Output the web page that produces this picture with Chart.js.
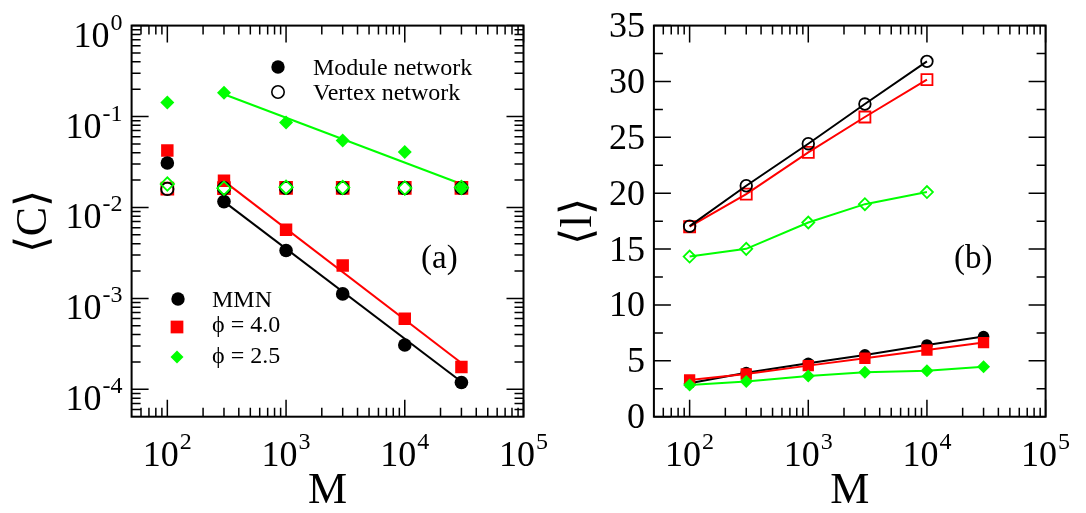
<!DOCTYPE html>
<html lang="en">
<head>
<meta charset="utf-8">
<title>Module network vs vertex network</title>
<script src="https://cdn.jsdelivr.net/npm/chart.js@4/dist/chart.umd.min.js"></script>
<style>
  html, body { margin: 0; padding: 0; background: #fff; }
  #wrap { position: relative; width: 1086px; height: 513px; overflow: hidden; }
  canvas { position: absolute; top: 0; }
  #chartA { left: 0; }
  #chartB { left: 540px; }
</style>
</head>
<body>
<div id="wrap">
  <canvas id="chartA" width="600" height="513"></canvas>
  <canvas id="chartB" width="546" height="513"></canvas>
</div>
<script>
  // network sizes
  var M = [100, 300, 1000, 3000, 10000, 30000];
  var Mvertex = [100, 300, 1000, 3000, 10000];

  // (a) clustering <C>, module network (filled symbols)
  var cModMMN = [0.0308, 0.0116, 0.00336, 0.00112, 0.000307, 0.000119];
  var cModPhi4 = [0.0423, 0.0197, 0.0057, 0.0023, 0.000597, 0.000176];
  var cModPhi25 = [0.1425, 0.183, 0.0859, 0.0545, 0.0407, 0.0164];
  // (a) clustering <C>, vertex network (open symbols)
  var cVerMMN = [0.0160, 0.0163, 0.0164, 0.0164, 0.0163, 0.0164];
  var cVerPhi4 = [0.0161, 0.0163, 0.0164, 0.0164, 0.0164, 0.0164];
  var cVerPhi25 = [0.0181, 0.0163, 0.0167, 0.0166, 0.0164, 0.0166];
  // (a) power-law fits
  var fitM = [300, 30000];
  var cFitMMN = [0.0116, 0.000121];
  var cFitPhi4 = [0.0195, 0.000195];
  var cFitPhi25 = [0.176, 0.0181];

  // (b) path length <l>
  var lVerMMN = [17.05, 20.67, 24.43, 27.98, 31.8];
  var lVerPhi4 = [17.0, 19.92, 23.65, 26.82, 30.16];
  var lVerPhi25 = [14.33, 15.02, 17.38, 19.02, 20.1];
  var lModMMN = [3.0, 3.94, 4.78, 5.53, 6.42, 7.17];
  var lModPhi4 = [3.29, 3.82, 4.57, 5.23, 5.97, 6.63];
  var lModPhi25 = [2.84, 3.14, 3.65, 3.97, 4.12, 4.48];

  // axis ticks
  var xDecades = [2, 3, 4, 5];
  var yDecadesA = [0, -1, -2, -3, -4];
  var yTicksB = [0, 5, 10, 15, 20, 25, 30, 35];

  var SERIF = "'Liberation Serif', 'Times New Roman', serif";
  var BLACK = '#000000', RED = '#ff0000', GREEN = '#00ff00';
  var MAJ = 17, MIN = 9;

  function pts(xs, ys) {
    return ys.map(function (y, i) { return { x: xs[i], y: y }; });
  }

  function marker(ctx, style, x, y, r, color, filled, lw) {
    ctx.beginPath();
    if (style === 'circle') {
      ctx.arc(x, y, r, 0, 2 * Math.PI);
    } else if (style === 'rect') {
      var s = r * Math.SQRT1_2;
      ctx.rect(x - s, y - s, 2 * s, 2 * s);
    } else {
      ctx.moveTo(x - r, y); ctx.lineTo(x, y - r);
      ctx.lineTo(x + r, y); ctx.lineTo(x, y + r);
      ctx.closePath();
    }
    if (filled) { ctx.fillStyle = color; ctx.fill(); }
    else { ctx.strokeStyle = color; ctx.lineWidth = lw || 1.6; ctx.stroke(); }
  }

  function logMinors(lo, hi) {
    var out = [];
    for (var e = Math.floor(Math.log10(lo)); e < Math.ceil(Math.log10(hi)); e++) {
      for (var m = 2; m <= 9; m++) {
        var v = m * Math.pow(10, e);
        if (v > lo && v < hi) out.push(v);
      }
    }
    return out;
  }

  function drawTicks(chart, xMaj, xMin, yMaj, yMin) {
    var ctx = chart.ctx, a = chart.chartArea;
    var xs = chart.scales.x, ys = chart.scales.y;
    ctx.save();
    ctx.strokeStyle = BLACK;
    ctx.lineWidth = 1.5;
    ctx.beginPath();
    function xt(v, len) {
      var p = xs.getPixelForValue(v);
      ctx.moveTo(p, a.bottom); ctx.lineTo(p, a.bottom - len);
      ctx.moveTo(p, a.top); ctx.lineTo(p, a.top + len);
    }
    function yt(v, len) {
      var p = ys.getPixelForValue(v);
      ctx.moveTo(a.left, p); ctx.lineTo(a.left + len, p);
      ctx.moveTo(a.right, p); ctx.lineTo(a.right - len, p);
    }
    xMaj.forEach(function (v) { xt(v, MAJ); });
    xMin.forEach(function (v) { xt(v, MIN); });
    yMaj.forEach(function (v) { yt(v, MAJ); });
    yMin.forEach(function (v) { yt(v, MIN); });
    ctx.stroke();
    ctx.lineWidth = 2;
    ctx.strokeRect(a.left, a.top, a.right - a.left, a.bottom - a.top);
    ctx.restore();
  }

  // "10" with a superscript, anchored by its combined width
  function powLabel(ctx, exp, x, baseline, align) {
    ctx.font = '36px ' + SERIF;
    var wb = ctx.measureText('10').width;
    ctx.font = '24px ' + SERIF;
    var ws = ctx.measureText(String(exp)).width;
    var total = wb + 1 + ws;
    var left = align === 'right' ? x - total : x - total / 2;
    ctx.textAlign = 'left';
    ctx.textBaseline = 'alphabetic';
    ctx.fillStyle = BLACK;
    ctx.font = '36px ' + SERIF;
    ctx.fillText('10', left, baseline);
    ctx.font = '24px ' + SERIF;
    ctx.fillText(String(exp), left + wb + 1, baseline - 17);
  }

  function xLabels(chart) {
    var ctx = chart.ctx, xs = chart.scales.x;
    xDecades.forEach(function (e) {
      powLabel(ctx, e, xs.getPixelForValue(Math.pow(10, e)), 466, 'center');
    });
    var a = chart.chartArea;
    ctx.font = '44px ' + SERIF;
    ctx.textAlign = 'center';
    ctx.textBaseline = 'alphabetic';
    ctx.fillText('M', (a.left + a.right) / 2, 503);
  }

  function yTitle(ctx, text, x, y) {
    ctx.save();
    ctx.translate(x, y);
    ctx.rotate(-Math.PI / 2);
    ctx.font = '44px ' + SERIF;
    ctx.textAlign = 'center';
    ctx.textBaseline = 'middle';
    ctx.fillStyle = BLACK;
    ctx.fillText(text, 0, 0);
    ctx.restore();
  }

  var decorA = {
    id: 'decorA',
    afterDraw: function (chart) {
      var ctx = chart.ctx, a = chart.chartArea, ys = chart.scales.y;
      var xMaj = xDecades.map(function (e) { return Math.pow(10, e); });
      var yMaj = yDecadesA.map(function (e) { return Math.pow(10, e); });
      drawTicks(chart, xMaj, logMinors(50, 1e5), yMaj, logMinors(5e-5, 1));
      ctx.save();
      yDecadesA.forEach(function (e) {
        powLabel(ctx, e, a.left - 9, ys.getPixelForValue(Math.pow(10, e)) + 21, 'right');
      });
      xLabels(chart);
      yTitle(ctx, '\u27E8C\u27E9', 34, 221.5);

      ctx.font = '33px ' + SERIF;
      ctx.textAlign = 'left';
      ctx.textBaseline = 'alphabetic';
      ctx.fillText('(a)', 421, 268);

      ctx.font = '24px ' + SERIF;
      marker(ctx, 'circle', 278, 67, 6.7, BLACK, true);
      ctx.fillStyle = BLACK;
      ctx.fillText('Module network', 313, 75);
      marker(ctx, 'circle', 278, 92, 6.2, BLACK, false);
      ctx.fillStyle = BLACK;
      ctx.fillText('Vertex network', 313, 100);

      marker(ctx, 'circle', 178, 299, 6.7, BLACK, true);
      marker(ctx, 'rect', 177, 327, 9, RED, true);
      marker(ctx, 'rectRot', 177, 357, 6.5, GREEN, true);
      ctx.fillStyle = BLACK;
      ctx.fillText('MMN', 212, 307);
      ctx.fillText('\u03D5 = 4.0', 212, 332);
      ctx.fillText('\u03D5 = 2.5', 212, 363);
      ctx.restore();
    }
  };

  var decorB = {
    id: 'decorB',
    afterDraw: function (chart) {
      var ctx = chart.ctx, a = chart.chartArea, ys = chart.scales.y;
      var xMaj = xDecades.map(function (e) { return Math.pow(10, e); });
      var yMin = yTicksB.slice(0, -1).map(function (v) { return v + 2.5; });
      drawTicks(chart, xMaj, logMinors(50, 1e5), yTicksB, yMin);
      ctx.save();
      ctx.fillStyle = BLACK;
      ctx.font = '36px ' + SERIF;
      ctx.textAlign = 'right';
      ctx.textBaseline = 'middle';
      yTicksB.forEach(function (v) {
        ctx.fillText(String(v), a.left - 9, ys.getPixelForValue(v) + 2);
      });
      xLabels(chart);
      yTitle(ctx, '\u27E8l\u27E9', 579 - 540, 221.5);
      ctx.font = '33px ' + SERIF;
      ctx.textAlign = 'left';
      ctx.textBaseline = 'alphabetic';
      ctx.fillText('(b)', 954 - 540, 268);
      ctx.restore();
    }
  };

  function scatterSet(xs, ys, style, r, color, filled, order, line) {
    return {
      data: pts(xs, ys),
      showLine: !!line,
      borderColor: color,
      borderWidth: 2,
      pointStyle: style,
      pointRadius: r,
      pointHoverRadius: r,
      pointBackgroundColor: filled ? color : 'rgba(0,0,0,0)',
      pointBorderColor: color,
      pointBorderWidth: filled ? 0 : 1.8,
      order: order
    };
  }

  function fitSet(ys, color) {
    return {
      data: pts(fitM, ys),
      showLine: true,
      borderColor: color,
      borderWidth: 2,
      pointRadius: 0,
      order: 20
    };
  }

  function baseOptions(pad, yScale) {
    return {
      responsive: false,
      animation: false,
      devicePixelRatio: 1,
      events: [],
      layout: { padding: pad },
      plugins: { legend: { display: false }, tooltip: { enabled: false } },
      scales: {
        x: { type: 'logarithmic', min: 50, max: 1e5, display: false },
        y: yScale
      }
    };
  }

  new Chart(document.getElementById('chartA'), {
    type: 'scatter',
    data: {
      datasets: [
        fitSet(cFitMMN, BLACK),
        fitSet(cFitPhi4, RED),
        fitSet(cFitPhi25, GREEN),
        scatterSet(M, cModMMN, 'circle', 6.8, BLACK, true, 10),
        scatterSet(M, cModPhi4, 'rect', 8.8, RED, true, 11),
        scatterSet(M, cModPhi25, 'rectRot', 7, GREEN, true, 12),
        scatterSet(M, cVerPhi25, 'rectRot', 6.7, GREEN, false, 1),
        scatterSet(M, cVerMMN, 'circle', 6.2, BLACK, false, 2),
        scatterSet(M, cVerPhi4, 'rect', 8.4, RED, false, 3)
      ]
    },
    options: baseOptions({ left: 131.6, right: 76.5, top: 25.6, bottom: 96.3 },
      { type: 'logarithmic', min: 5e-5, max: 1, display: false }),
    plugins: [decorA]
  });

  new Chart(document.getElementById('chartB'), {
    type: 'scatter',
    data: {
      datasets: [
        scatterSet(Mvertex, lVerMMN, 'circle', 5.8, BLACK, false, 1, true),
        scatterSet(Mvertex, lVerPhi4, 'rect', 7.8, RED, false, 2, true),
        scatterSet(Mvertex, lVerPhi25, 'rectRot', 6, GREEN, false, 3, true),
        scatterSet(M, lModMMN, 'circle', 5.8, BLACK, true, 6, true),
        scatterSet(M, lModPhi4, 'rect', 8, RED, true, 5, true),
        scatterSet(M, lModPhi25, 'rectRot', 6.5, GREEN, true, 4, true)
      ]
    },
    options: baseOptions({ left: 113.9, right: 40.4, top: 25.6, bottom: 96.3 },
      { type: 'linear', min: 0, max: 35, display: false }),
    plugins: [decorB]
  });
</script>
</body>
</html>
